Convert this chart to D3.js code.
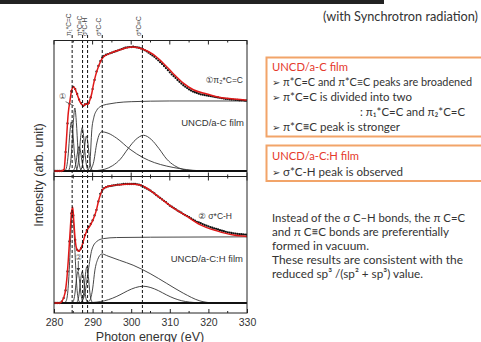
<!DOCTYPE html>
<html><head><meta charset="utf-8">
<script src="https://cdn.jsdelivr.net/npm/d3@7"></script>
<style>
html,body{margin:0;padding:0;background:#fff;}
svg{display:block;}
</style></head><body>
<svg id="c" width="481" height="342"></svg>
<script>
// ---------------- DATA ----------------
const energyTicks = [280, 290, 300, 310, 320, 330];
const minorTicks = [285, 295, 305, 315, 325];
const dashedEnergies = [284.7, 287.4, 288.7, 292.5, 302.9];
const dashedLabels = ["π₁*C=C", "π*C≡C", "σ*C-H", "σ*C-C", "σ*C≡C"];

// measured points (black dots), every 0.5 eV from 280 to 330
const dotEnergies = d3.range(280, 330.001, 0.5);
const topMeasured = [0,0,0,0,0,
 0.01,0.27,0.68,0.96,1.14,1.20,1.17,1.10,1.02,0.97,0.93,0.95,0.96,0.97,1.05,1.17,1.30,1.42,1.50,1.57,1.62,
 1.645,1.66,1.67,1.68,1.69,1.70,1.71,1.72,1.73,1.74,1.75,1.76,1.765,1.77,1.77,1.775,1.77,1.765,1.76,1.75,
 1.74,1.725,1.71,1.69,1.67,1.65,1.63,1.605,1.58,1.555,1.53,1.50,1.47,1.44,1.41,1.38,1.355,1.33,1.30,1.275,
 1.25,1.225,1.205,1.185,1.165,1.15,1.135,1.125,1.115,1.105,1.095,1.09,1.085,1.08,1.075,
 1.07,1.065,1.06,1.055,1.05,1.045,1.04,1.035,1.03,1.03,1.025,1.02,1.02,1.015,1.015,1.01,1.01,1.01,1.005,1.005];
const bottomMeasured = [0,0,0,0,
 0.02,0.07,0.18,0.45,0.88,1.28,1.25,0.90,0.76,0.745,0.78,0.86,0.97,1.04,1.09,1.13,1.18,1.25,1.33,1.45,1.56,
 1.615,1.64,1.655,1.665,1.67,1.675,1.68,1.685,1.69,1.69,1.695,1.70,1.70,1.70,1.70,1.70,1.70,1.70,1.695,1.69,
 1.68,1.665,1.65,1.635,1.62,1.605,1.585,1.565,1.54,1.52,1.50,1.48,1.46,1.44,1.415,1.39,1.375,1.357,1.34,1.32,
 1.305,1.29,1.27,1.255,1.24,1.225,1.21,1.19,1.175,1.16,1.15,1.14,1.127,1.115,1.105,1.095,1.085,1.075,1.067,
 1.06,1.05,1.04,1.032,1.025,1.017,1.01,1.005,1.0,0.995,0.99,0.987,0.985,0.982,0.98,0.977,0.975];

// fitted envelope (red line) [energy, intensity]
const topFit = [[280,0],[282,0],[282.6,0.02],[283.1,0.35],[283.7,0.83],[284.15,1.01],[284.6,1.16],[285.0,1.20],
 [285.4,1.18],[285.9,1.11],[286.7,0.99],[287.2,0.95],[287.7,0.93],[288.2,0.96],[288.7,0.95],[289.2,1.0],[289.8,1.11],
 [290.2,1.23],[290.8,1.37],[291.5,1.49],[292.2,1.58],[292.8,1.63],[294.5,1.68],[297.1,1.73],[300.1,1.77],[303.1,1.74],
 [305.7,1.665],[308.3,1.54],[310.9,1.39],[313.5,1.255],[316.1,1.16],[319.6,1.10],[323.0,1.05],[326.5,1.03],[330,1.01]];
const bottomFit = [[280,0],[281.5,0],[282.0,0.02],[282.85,0.14],[283.3,0.33],[283.7,0.61],[284.15,1.0],[284.55,1.30],
 [284.85,1.37],[285.15,1.15],[285.5,0.90],[285.9,0.77],[286.3,0.74],[286.8,0.76],[287.2,0.81],[288.0,0.96],[288.6,1.04],
 [289.4,1.11],[290.2,1.20],[291.0,1.33],[291.5,1.45],[292.4,1.60],[293.3,1.65],[294.5,1.67],[297.1,1.69],[299.7,1.70],
 [302.3,1.685],[304.9,1.61],[307.5,1.50],[310.9,1.36],[314.4,1.24],[317.8,1.12],[322.2,1.03],[326.5,0.97],[330,0.95]];

// fit components, top panel (UNCD/a-C)
const topStep = [[280,0],[288.5,0],[289.0,0.03],[289.3,0.11],[289.8,0.59],[290.3,0.76],[291.1,0.87],[292.0,0.92],
 [292.8,0.94],[294.5,0.96],[296.2,0.975],[300,0.99],[310,1.0],[330,1.0]];
const topSigmaCC = [[289.0,0],[289.6,0.03],[290.2,0.11],[291.1,0.40],[291.8,0.53],[292.4,0.56],[294.0,0.54],[296.2,0.47],
 [299.7,0.31],[303.1,0.19],[306.0,0.12],[309.2,0.07],[312.5,0.035],[316.0,0.01],[320,0]];
const topSigmaCtC = [[289,0],[291.2,0.007],[293.2,0.026],[295.2,0.077],[297.2,0.17],[299.2,0.32],[301.2,0.45],[303.2,0.51],
 [305.2,0.45],[307.2,0.32],[309.2,0.17],[311.2,0.077],[313.2,0.026],[315.2,0.007],[318,0]];
const topPi1 = [[282.8,0],[283.3,0.065],[283.7,0.245],[284.1,0.54],[284.5,0.70],[284.9,0.54],[285.3,0.245],[285.7,0.065],[286.2,0]];
const topPi2 = [[283.7,0],[284.2,0.084],[284.6,0.315],[285.0,0.69],[285.4,0.90],[285.8,0.69],[286.2,0.315],[286.6,0.084],[287.1,0]];
const topPeak3 = [[284.8,0],[285.3,0.033],[285.7,0.12],[286.1,0.27],[286.5,0.35],[286.9,0.27],[287.3,0.12],[287.7,0.033],[288.2,0]];
const topPeak4 = [[285.6,0],[286.1,0.058],[286.5,0.22],[286.9,0.48],[287.3,0.62],[287.7,0.48],[288.1,0.22],[288.5,0.058],[289.0,0]];
const topPeak5 = [[286.7,0],[287.2,0.047],[287.6,0.175],[288.0,0.385],[288.4,0.50],[288.8,0.385],[289.2,0.175],[289.6,0.047],[290.1,0]];

// fit components, bottom panel (UNCD/a-C:H)
const bottomStep = [[280,0],[286.5,0],[287.3,0.03],[288.0,0.14],[288.9,0.47],[289.8,0.76],[291.1,0.88],[292.8,0.92],
 [296.2,0.935],[305,0.94],[330,0.945]];
const bottomSigmaCC = [[288.5,0],[289.3,0.04],[290.0,0.2],[290.6,0.47],[291.3,0.62],[292.4,0.70],[294,0.67],[297,0.61],
 [300.5,0.54],[304.9,0.42],[309.2,0.28],[313.5,0.14],[317.8,0.03],[321,0]];
const bottomSigmaCtC = [[287,0],[289.1,0.005],[291.1,0.013],[293.1,0.032],[295.1,0.067],[297.1,0.117],[299.1,0.175],
 [301.1,0.22],[303.1,0.24],[305.1,0.22],[307.1,0.175],[309.1,0.117],[311.1,0.067],[313.1,0.032],[315.1,0.013],[317.1,0.005],[320,0]];
const bottomPi1 = [[282.6,0],[283.1,0.023],[283.6,0.175],[284.0,0.53],[284.4,1.04],[284.8,1.30],[285.2,1.04],[285.6,0.53],[286.0,0.175],[286.5,0.023],[287.0,0]];
const bottomPeak2 = [[284.5,0],[285.0,0.025],[285.4,0.126],[285.8,0.33],[286.2,0.45],[286.6,0.33],[287.0,0.126],[287.4,0.025],[287.9,0]];
const bottomPeak3 = [[285.6,0],[286.1,0.025],[286.5,0.126],[286.9,0.33],[287.3,0.45],[287.7,0.33],[288.1,0.126],[288.5,0.025],[289.0,0]];
const bottomPeak4 = [[286.8,0],[287.3,0.029],[287.7,0.146],[288.1,0.38],[288.5,0.52],[288.9,0.38],[289.3,0.146],[289.7,0.029],[290.2,0]];

const topComponents = [topStep, topSigmaCC, topSigmaCtC, topPi1, topPi2, topPeak3, topPeak4, topPeak5];
const bottomComponents = [bottomStep, bottomSigmaCC, bottomSigmaCtC, bottomPi1, bottomPeak2, bottomPeak3, bottomPeak4];

// ---------------- DRAW ----------------
const svg = d3.select("#c");
const L = 54, R = 247, T = 40.5, M = 176.5, B = 313;
const x = d3.scaleLinear().domain([280, 330]).range([L, R]);
const yT = d3.scaleLinear().domain([0, 1.871]).range([171, 40]);
const yB = d3.scaleLinear().domain([0, 1.807]).range([303, 176.5]);

// top dark bar
svg.append("rect").attr("x", 0).attr("y", 0).attr("width", 384).attr("height", 4).attr("fill", "#222");

svg.append("defs").append("clipPath").attr("id", "plotclip")
  .append("rect").attr("x", L).attr("y", T).attr("width", R - L).attr("height", B - T);

const plot = svg.append("g").attr("clip-path", "url(#plotclip)");

function drawPanel(y, comps, fit, meas) {
  const ln = d3.line().x(d => x(d[0])).y(d => y(d[1])).curve(d3.curveMonotoneX);
  plot.append("g").selectAll("path").data(comps).join("path")
    .attr("d", ln).attr("fill", "none").attr("stroke", "#333").attr("stroke-width", 0.9);
  plot.append("line").attr("x1", L).attr("x2", R).attr("y1", y(0)).attr("y2", y(0))
    .attr("stroke", "#111").attr("stroke-width", 1.8);
  plot.append("g").selectAll("circle").data(dotEnergies).join("circle")
    .attr("cx", d => x(d)).attr("cy", (d, i) => y(meas[i])).attr("r", 1.15).attr("fill", "#111");
  plot.append("path").attr("d", ln(fit)).attr("fill", "none").attr("stroke", "#e01818").attr("stroke-width", 1.5);
}
drawPanel(yT, topComponents, topFit, topMeasured);
drawPanel(yB, bottomComponents, bottomFit, bottomMeasured);

// dashed lines
svg.append("g").selectAll("line").data(dashedEnergies).join("line")
  .attr("x1", d => x(d)).attr("x2", d => x(d)).attr("y1", 35).attr("y2", B)
  .attr("stroke", "#111").attr("stroke-width", 1).attr("stroke-dasharray", "3,2");
svg.append("g").selectAll("text").data(dashedEnergies).join("text")
  .attr("transform", d => `translate(${x(d) - 1},36) rotate(-90)`)
  .attr("font-family", "Liberation Sans, Arial, DejaVu Sans, sans-serif").attr("font-size", 6.5)
  .attr("fill", "#444").text((d, i) => dashedLabels[i]);

// frame
svg.append("rect").attr("x", L).attr("y", T).attr("width", R - L).attr("height", B - T)
  .attr("fill", "none").attr("stroke", "#222").attr("stroke-width", 1);
svg.append("line").attr("x1", L).attr("x2", R).attr("y1", M).attr("y2", M).attr("stroke", "#222").attr("stroke-width", 1);

// axes
function ticksAt(yPos, dir, vals, len) {
  svg.append("g").selectAll("line").data(vals).join("line")
    .attr("x1", d => x(d)).attr("x2", d => x(d)).attr("y1", yPos).attr("y2", yPos + dir * len)
    .attr("stroke", "#222").attr("stroke-width", 1);
}
ticksAt(T, 1, energyTicks, 4); ticksAt(T, 1, minorTicks, 2);
ticksAt(M, -1, energyTicks, 4); ticksAt(M, -1, minorTicks, 2);
ticksAt(M, 1, energyTicks, 4); ticksAt(M, 1, minorTicks, 2);
ticksAt(B, -1, minorTicks, 2);

const xAxis = d3.axisBottom(x).tickValues(energyTicks).tickSize(-4).tickSizeOuter(0).tickPadding(6);
const gx = svg.append("g").attr("transform", `translate(0,${B})`).call(xAxis);
gx.select(".domain").remove();
gx.selectAll("line").attr("stroke", "#222");
gx.selectAll("text").attr("font-family", "Liberation Sans, Arial, sans-serif").attr("font-size", 10.5).attr("fill", "#333");

svg.append("text").attr("x", 150).attr("y", 340.5).attr("text-anchor", "middle")
  .attr("font-family", "Liberation Sans, Arial, sans-serif").attr("font-size", 12.5).attr("fill", "#333")
  .text("Photon energy (eV)");
svg.append("text").attr("transform", "translate(43,175) rotate(-90)").attr("text-anchor", "middle")
  .attr("font-family", "Liberation Sans, Arial, sans-serif").attr("font-size", 12.5).attr("fill", "#333")
  .text("Intensity (arb. unit)");

// in-plot annotations
const annFont = "Liberation Sans, Arial, DejaVu Sans, Noto Sans CJK JP, sans-serif";
function note(tx, ty, str, size, anchor) {
  svg.append("text").attr("x", tx).attr("y", ty).attr("text-anchor", anchor || "start")
    .attr("font-family", annFont).attr("font-size", size).attr("fill", "#333").text(str);
}
note(243, 83, "①π₂*C=C", 8.5, "end");
note(244, 125.5, "UNCD/a-C  film", 9.5, "end");
note(232, 219, "② σ*C-H", 8.5, "end");
note(243, 262, "UNCD/a-C:H  film", 9.5, "end");
// markers
svg.append("text").attr("x", x(282.2)).attr("y", yT(1.03)).attr("text-anchor", "middle")
  .attr("font-family", annFont).attr("font-size", 8).attr("fill", "#555").text("①");
svg.append("line").attr("x1", x(283.0)).attr("y1", yT(0.99)).attr("x2", x(285.2)).attr("y2", yT(0.93))
  .attr("stroke", "#555").attr("stroke-width", 0.8);
svg.append("text").attr("x", x(286.4)).attr("y", yB(0.61)).attr("text-anchor", "middle")
  .attr("font-family", annFont).attr("font-size", 8).attr("fill", "#666").text("②");
svg.append("line").attr("x1", x(286.3)).attr("y1", yB(0.6)).attr("x2", x(286.3)).attr("y2", yB(0.48))
  .attr("stroke", "#333").attr("stroke-width", 0.8);
svg.append("path").attr("d", `M${x(286.3)-1.8},${yB(0.5)} L${x(286.3)+1.8},${yB(0.5)} L${x(286.3)},${yB(0.45)} Z`).attr("fill", "#333");

// right-hand text
const rf = "Lato, Open Sans, DejaVu Sans, sans-serif";
function rtext(tx, ty, str, width, color, size) {
  const t = svg.append("text").attr("x", tx).attr("y", ty).attr("font-family", rf).attr("font-size", size || 12)
    .attr("fill", color || "#333").text(str);
  if (width) t.attr("textLength", width).attr("lengthAdjust", "spacingAndGlyphs");
  return t;
}
function bullet(ty) {
  svg.append("text").attr("x", 272).attr("y", ty).attr("font-family", "DejaVu Sans, sans-serif")
    .attr("font-size", 10).attr("fill", "#333").text("➢");
}
rtext(323, 21, "(with Synchrotron radiation)", 155, "#333", 12.5);

svg.append("rect").attr("x", 266.5).attr("y", 57.5).attr("width", 240).attr("height", 79)
  .attr("fill", "none").attr("stroke", "#f2a469").attr("stroke-width", 2);
svg.append("rect").attr("x", 266.5).attr("y", 145.5).attr("width", 240).attr("height", 35.5)
  .attr("fill", "none").attr("stroke", "#f2a469").attr("stroke-width", 2);

rtext(272, 71, "UNCD/a-C  film", 76, "#e5392b");
bullet(86); rtext(283, 86, "π*C=C and π*C≡C peaks are broadened", 189, "#333", 11);
bullet(101); rtext(283, 101, "π*C=C is divided into two", 129);
rtext(360, 116, ": π₁*C=C and π₂*C=C", 105);
bullet(131); rtext(283, 131, "π*C≡C peak is stronger", 117);
rtext(272, 160, "UNCD/a-C:H  film", 87, "#e5392b");
bullet(176); rtext(283, 176, "σ*C-H peak is observed", 120);

rtext(272, 222, "Instead of the σ C–H bonds, the π C=C", 193);
rtext(272, 236, "and π C≡C bonds are preferentially", 177);
rtext(272, 249.5, "formed in vacuum.", 97);
rtext(272, 263.5, "These results are consistent with the", 191);
rtext(272, 277.5, "reduced sp³ /(sp² + sp³) value.", 151);
</script></body></html>
